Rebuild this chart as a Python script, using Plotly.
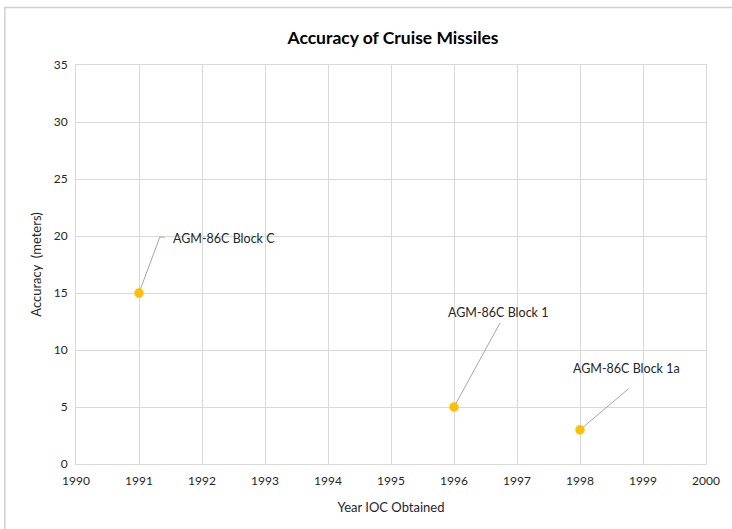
import plotly.graph_objects as go

# ---- data ----
years = [1991, 1996, 1998]
accuracy_m = [15, 5, 3]
labels = ["AGM-86C Block C", "AGM-86C Block 1", "AGM-86C Block 1a"]

x_ticks = list(range(1990, 2001))
y_ticks = [0, 5, 10, 15, 20, 25, 30, 35]

# label placement (offsets from each point, in data units)
line_end_dx = [0.33, 0.73, 0.77]
line_end_dy = [4.9, 7.37, 3.6]
line_tail_dx = [0.08, 0.0, 0.0]
text_dx = [0.505, 0.70, 0.74]
text_dy = [4.8, 8.25, 5.42]
text_anchor = ["left", "center", "center"]

FONT = "Lato"
GRID = "#d9d9d9"
LEADER = "#a6a6a6"
GOLD = "#FFC000"

fig = go.Figure()

# leader lines
for i in range(len(years)):
    xs = [years[i], years[i] + line_end_dx[i]]
    ys = [accuracy_m[i], accuracy_m[i] + line_end_dy[i]]
    if line_tail_dx[i]:
        xs.append(years[i] + line_end_dx[i] + line_tail_dx[i])
        ys.append(accuracy_m[i] + line_end_dy[i])
    fig.add_trace(go.Scatter(x=xs, y=ys, mode="lines",
                             line=dict(color=LEADER, width=1),
                             hoverinfo="skip", showlegend=False))

fig.add_trace(go.Scatter(
    x=years, y=accuracy_m, mode="markers",
    marker=dict(size=9, color=GOLD, line=dict(color=GOLD, width=0.5)),
    showlegend=False,
))

for i in range(len(years)):
    fig.add_annotation(
        x=years[i] + text_dx[i], y=accuracy_m[i] + text_dy[i],
        xref="x", yref="y", text=labels[i], showarrow=False,
        xanchor=text_anchor[i], yanchor="middle",
        font=dict(family=FONT, size=12.5, color="#262626"),
    )

# outer chart border (top/left visible)
fig.add_shape(type="rect", xref="paper", yref="paper",
              x0=-0.113, x1=1.2, y0=-0.3, y1=1.144,
              line=dict(color="#d0d0d0", width=1.5), layer="below")

fig.update_layout(
    width=732, height=529,
    margin=dict(l=76, r=21, t=65, b=65),
    paper_bgcolor="white", plot_bgcolor="white",
    title=dict(text="<b>Accuracy of Cruise Missiles</b>",
               x=(76 + 710) / 2 / 732, xanchor="center",
               y=1 - 38 / 529, yanchor="middle", yref="container",
               font=dict(family=FONT, size=17.5, color="#000000")),
    font=dict(family=FONT, size=12, color="#262626"),
)

fig.update_xaxes(
    range=[1990, 2000], tickvals=x_ticks, ticktext=[str(v) for v in x_ticks],
    showgrid=True, gridcolor=GRID, gridwidth=1,
    showline=True, linecolor=GRID, linewidth=1, mirror=True,
    zeroline=False, ticks="outside", ticklen=6, tickcolor="rgba(0,0,0,0)",
    tickfont=dict(family=FONT, size=12, color="#262626"),
    title=dict(text="Year IOC Obtained", standoff=15,
               font=dict(family=FONT, size=13, color="#262626")),
)
fig.update_yaxes(
    range=[0, 35], tickvals=y_ticks,
    showgrid=True, gridcolor=GRID, gridwidth=1,
    showline=True, linecolor=GRID, linewidth=1, mirror=True,
    zeroline=False, ticks="outside", ticklen=5, tickcolor="rgba(0,0,0,0)",
    tickfont=dict(family=FONT, size=12, color="#262626"),
    title=dict(text="Accuracy  (meters)", standoff=9,
               font=dict(family=FONT, size=13, color="#262626")),
)

fig.write_html("out.html",
               config={"displayModeBar": False},
               post_script="document.body.style.margin='0';document.body.style.overflow='hidden';")
